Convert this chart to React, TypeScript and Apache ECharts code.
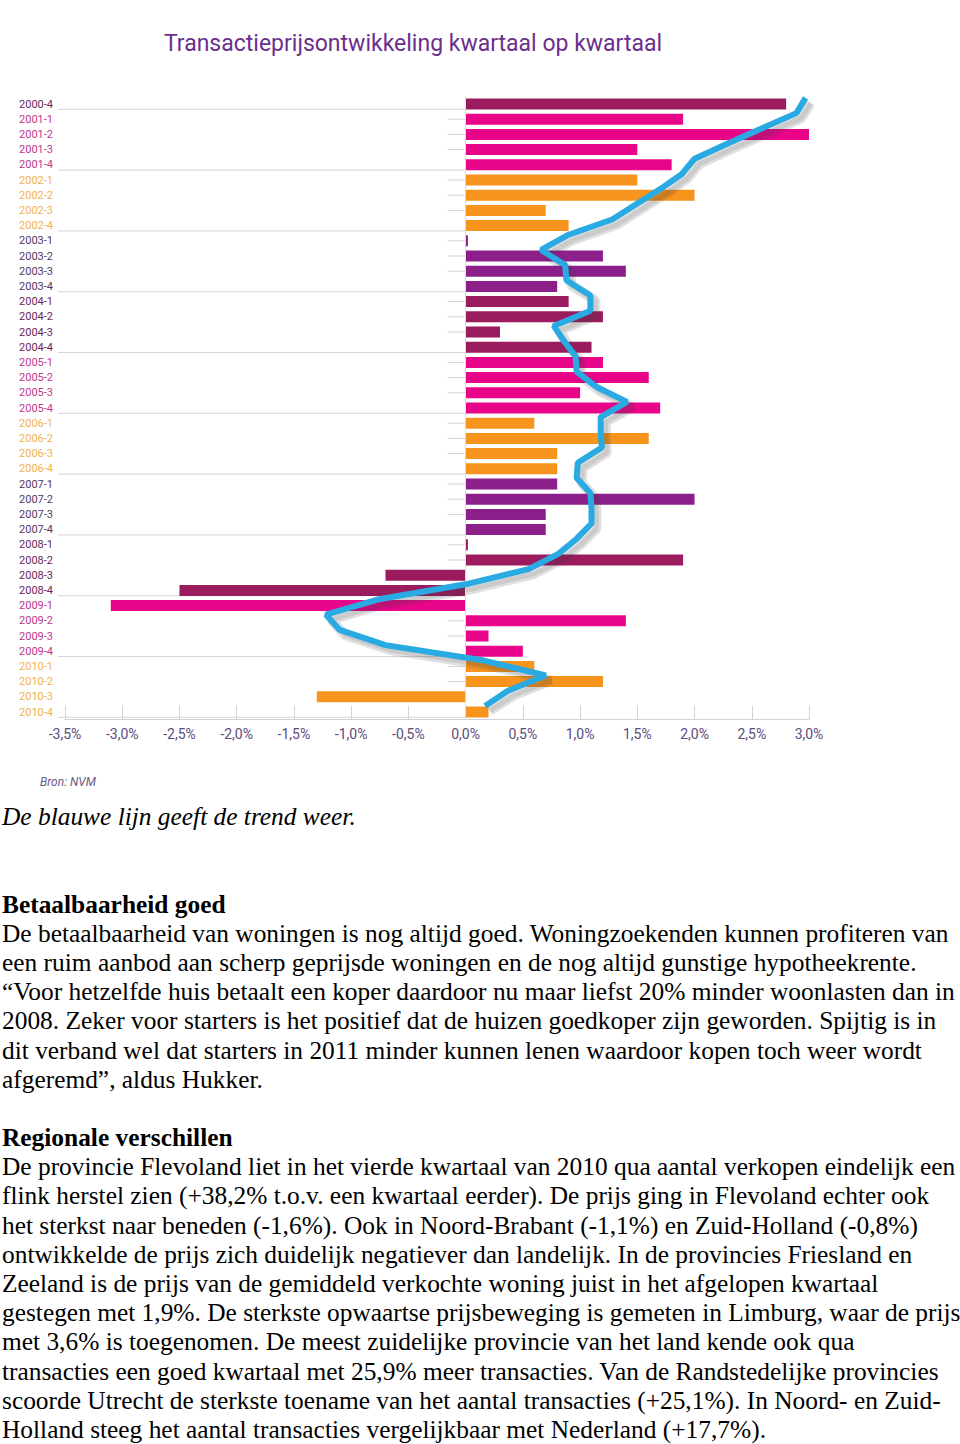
import React, { useEffect, useRef } from "react";
import * as echarts from "echarts";

const categories: string[] = [
  "2000-4",
  "2001-1", "2001-2", "2001-3", "2001-4",
  "2002-1", "2002-2", "2002-3", "2002-4",
  "2003-1", "2003-2", "2003-3", "2003-4",
  "2004-1", "2004-2", "2004-3", "2004-4",
  "2005-1", "2005-2", "2005-3", "2005-4",
  "2006-1", "2006-2", "2006-3", "2006-4",
  "2007-1", "2007-2", "2007-3", "2007-4",
  "2008-1", "2008-2", "2008-3", "2008-4",
  "2009-1", "2009-2", "2009-3", "2009-4",
  "2010-1", "2010-2", "2010-3", "2010-4",
];

// quarter-on-quarter price change (%)
const priceChange: number[] = [
  2.8,
  1.9, 3.0, 1.5, 1.8,
  1.5, 2.0, 0.7, 0.9,
  0.02, 1.2, 1.4, 0.8,
  0.9, 1.2, 0.3, 1.1,
  1.2, 1.6, 1.0, 1.7,
  0.6, 1.6, 0.8, 0.8,
  0.8, 2.0, 0.7, 0.7,
  0.02, 1.9, -0.7, -2.5,
  -3.1, 1.4, 0.2, 0.5,
  0.6, 1.2, -1.3, 0.2,
];

// blue trend line (%)
const trend: number[] = [
  2.97,
  2.89, 2.59, 2.29, 2.0,
  1.89, 1.7, 1.49, 1.28,
  0.9, 0.66, 0.87, 0.88,
  1.09, 1.09, 0.77, 0.86,
  0.96, 0.97, 1.14, 1.41,
  1.18, 1.18, 1.19, 0.98,
  0.97, 1.09, 1.1, 1.1,
  0.97, 0.81, 0.55, 0.0,
  -0.77, -1.22, -1.1, -0.7,
  0.15, 0.7, 0.37, 0.17,
];

const xTicks = { min: -3.5, max: 3.0, interval: 0.5 };

const barColors = ["#9b1b5f", "#e8058a", "#f7941e", "#8d1f8b"];
const labelColors = ["#6d2757", "#c0388c", "#efb352", "#54395f"];

const groupOf = (cat: string) => parseInt(cat.slice(0, 4), 10) % 4;

const bodyLines: { text: string; style?: "i" | "b" }[] = [
  { text: "De blauwe lijn geeft de trend weer.", style: "i" },
  { text: "" },
  { text: "" },
  { text: "Betaalbaarheid goed", style: "b" },
  { text: "De betaalbaarheid van woningen is nog altijd goed. Woningzoekenden kunnen profiteren van" },
  { text: "een ruim aanbod aan scherp geprijsde woningen en de nog altijd gunstige hypotheekrente." },
  { text: "\u201CVoor hetzelfde huis betaalt een koper daardoor nu maar liefst 20% minder woonlasten dan in" },
  { text: "2008. Zeker voor starters is het positief dat de huizen goedkoper zijn geworden. Spijtig is in" },
  { text: "dit verband wel dat starters in 2011 minder kunnen lenen waardoor kopen toch weer wordt" },
  { text: "afgeremd\u201D, aldus Hukker." },
  { text: "" },
  { text: "Regionale verschillen", style: "b" },
  { text: "De provincie Flevoland liet in het vierde kwartaal van 2010 qua aantal verkopen eindelijk een" },
  { text: "flink herstel zien (+38,2% t.o.v. een kwartaal eerder). De prijs ging in Flevoland echter ook" },
  { text: "het sterkst naar beneden (-1,6%). Ook in Noord-Brabant (-1,1%) en Zuid-Holland (-0,8%)" },
  { text: "ontwikkelde de prijs zich duidelijk negatiever dan landelijk. In de provincies Friesland en" },
  { text: "Zeeland is de prijs van de gemiddeld verkochte woning juist in het afgelopen kwartaal" },
  { text: "gestegen met 1,9%. De sterkste opwaartse prijsbeweging is gemeten in Limburg, waar de prijs" },
  { text: "met 3,6% is toegenomen. De meest zuidelijke provincie van het land kende ook qua" },
  { text: "transacties een goed kwartaal met 25,9% meer transacties. Van de Randstedelijke provincies" },
  { text: "scoorde Utrecht de sterkste toename van het aantal transacties (+25,1%). In Noord- en Zuid-" },
  { text: "Holland steeg het aantal transacties vergelijkbaar met Nederland (+17,7%)." },
];

function Chart() {
  const ref = useRef<HTMLDivElement>(null);
  useEffect(() => {
    if (!ref.current) return;
    const chart = echarts.init(ref.current, undefined, { renderer: "svg" });
    const n = categories.length;
    const gridW = 744;
    const gridH = 623.2;
    // shadow offset (px) translated into axis units
    const shOffX = (5 * (xTicks.max - xTicks.min)) / gridW;
    const shOffY = (5 * n) / gridH;
    const option: any = {
      animation: false,
      backgroundColor: "#ffffff",
      graphic: [
        {
          type: "text",
          x: 413,
          y: 43,
          style: {
            text: "Transactieprijsontwikkeling kwartaal op kwartaal",
            fill: "#6b2f8e",
            font: "23px Roboto",
            textAlign: "center",
            textVerticalAlign: "middle",
          },
        },
        {
          type: "text",
          x: 40,
          y: 782,
          style: {
            text: "Bron: NVM",
            fill: "#6a5a88",
            font: "italic 12px Roboto",
            textAlign: "left",
            textVerticalAlign: "middle",
          },
        },
      ],
      grid: { left: 65, width: gridW, top: 96.4, height: gridH },
      xAxis: [
        {
          type: "value",
          min: xTicks.min,
          max: xTicks.max,
          interval: xTicks.interval,
          axisLine: { show: true, onZero: false, lineStyle: { color: "#d4d0d8", width: 1 } },
          axisTick: { show: true, inside: true, length: 14, lineStyle: { color: "#d4d0d8" } },
          splitLine: { show: false },
          axisLabel: {
            margin: 7,
            color: "#5c4b7c",
            fontFamily: "Roboto",
            fontSize: 14,
            formatter: (v: number) => v.toFixed(1).replace(".", ",") + "%",
          },
        },
        {
          type: "value",
          show: false,
          min: xTicks.min - shOffX,
          max: xTicks.max - shOffX,
        },
      ],
      yAxis: [
        {
          type: "category",
          data: categories,
          inverse: true,
          axisLine: { show: false },
          axisTick: { show: false },
          axisLabel: {
            margin: 12,
            fontFamily: "Roboto",
            fontSize: 11,
            color: (v: string) => labelColors[groupOf(v)],
          },
        },
        {
          type: "value",
          show: false,
          inverse: true,
          min: -0.1,
          max: n - 0.1,
        },
        {
          type: "value",
          show: false,
          inverse: true,
          min: -0.1 - shOffY,
          max: n - 0.1 - shOffY,
        },
      ],
      series: [
        {
          type: "custom",
          xAxisIndex: 0,
          yAxisIndex: 0,
          silent: true,
          z: 1,
          data: categories.map((c, i) => [0, i]),
          encode: { x: 0, y: 1 },
          renderItem: (params: any, api: any) => {
            const idx = api.value(1);
            const cat = categories[idx];
            const c = api.coord([0, idx]);
            const band = api.size([0, 1])[1];
            if (cat.endsWith("-4")) {
              const left = api.coord([xTicks.min, idx])[0] - 7;
              const y = c[1] + band * 0.35;
              return {
                type: "line",
                shape: { x1: left, y1: y, x2: c[0], y2: y },
                style: { stroke: "#d6d3dc", lineWidth: 1 },
              };
            }
            return {
              type: "line",
              shape: { x1: c[0] - 18, y1: c[1], x2: c[0], y2: c[1] },
              style: { stroke: "#dccfd8", lineWidth: 1 },
            };
          },
        },
        {
          type: "bar",
          xAxisIndex: 0,
          yAxisIndex: 0,
          barWidth: 11,
          z: 2,
          data: priceChange.map((v, i) => ({
            value: v,
            itemStyle: { color: barColors[groupOf(categories[i])] },
          })),
          markLine: {
            silent: true,
            symbol: "none",
            label: { show: false },
            lineStyle: { color: "#dcdce0", type: "solid", width: 1 },
            data: [{ xAxis: 0 }],
          },
        },
        {
          type: "line",
          xAxisIndex: 1,
          yAxisIndex: 2,
          z: 4,
          silent: true,
          symbol: "none",
          data: trend.map((v, i) => [v, i]),
          lineStyle: { color: "rgba(60,60,60,0.16)", width: 10 },
        },
        {
          type: "line",
          xAxisIndex: 1,
          yAxisIndex: 2,
          z: 4,
          silent: true,
          symbol: "none",
          data: trend.map((v, i) => [v, i]),
          lineStyle: { color: "rgba(60,60,60,0.12)", width: 5 },
        },
        {
          type: "line",
          xAxisIndex: 0,
          yAxisIndex: 1,
          z: 5,
          symbol: "none",
          data: trend.map((v, i) => [v, i]),
          lineStyle: { color: "#2aaae2", width: 6 },
        },
      ],
    };
    chart.setOption(option);
    return () => chart.dispose();
  }, []);
  return <div ref={ref} style={{ width: 960, height: 802 }} />;
}

export default function App() {
  useEffect(() => {
    document.body.style.margin = "0";
  }, []);
  return (
    <div style={{ width: 960, background: "#fff" }}>
      <Chart />
      <div
        style={{
          paddingLeft: 2,
          fontFamily: "'Liberation Serif', 'Times New Roman', serif",
          fontSize: 25.4,
          lineHeight: "29.2px",
          color: "#000",
          whiteSpace: "nowrap",
        }}
      >
        {bodyLines.map((l, i) => (
          <div
            key={i}
            style={{
              height: "29.2px",
              fontStyle: l.style === "i" ? "italic" : "normal",
              fontWeight: l.style === "b" ? "bold" : "normal",
            }}
          >
            {l.text}
          </div>
        ))}
      </div>
    </div>
  );
}
